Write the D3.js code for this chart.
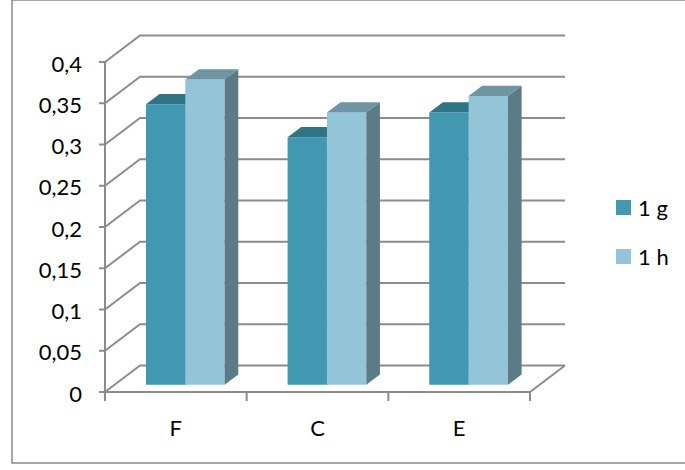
<!DOCTYPE html>
<html>
<head>
<meta charset="utf-8">
<script src="https://cdn.jsdelivr.net/npm/d3@7"></script>
<style>
  html, body { margin: 0; padding: 0; background: #fff; }
  svg { display: block; }
  text { font-family: Lato, "Open Sans", sans-serif; fill: #000; }
</style>
</head>
<body>
<svg id="chart" width="685" height="470"></svg>
<script>
// Chart data
const categories = ["F", "C", "E"];
const seriesNames = ["1 g", "1 h"];
const values1g = [0.34, 0.30, 0.33];
const values1h = [0.37, 0.33, 0.35];
const yTickValues = [0, 0.05, 0.1, 0.15, 0.2, 0.25, 0.3, 0.35, 0.4];

const seriesValues = [values1g, values1h];
const palette = {
  "1 g": { front: "#4198b1", top: "#2f7586", side: "#2d6e7e" },
  "1 h": { front: "#93c4d7", top: "#6f95a4", side: "#5b7c87" }
};

const svg = d3.select("#chart");

// Outer chart frame
svg.append("rect")
  .attr("x", 12).attr("y", 0)
  .attr("width", 700).attr("height", 463)
  .attr("fill", "none").attr("stroke", "#8a8a8a").attr("stroke-width", 1.5);

// Plot scales (front plane) and depth projection
const x = d3.scaleBand().domain(categories).range([105, 530]);
const xs = d3.scaleBand().domain(seriesNames).range([0, x.bandwidth()]).paddingOuter(0.8);
const y = d3.scaleLinear().domain([0, 0.4]).range([392, 62]);
const depth = { dx: 35, dy: -26.5 };
const barDepth = [0.27, 0.66];

const proj = (px, v, f) => [px + f * depth.dx, y(v) + f * depth.dy];
const fmt = d3.formatLocale({ decimal: ",", thousands: ".", grouping: [3], currency: ["", ""] }).format(".2~f");

const gridColor = "#8c8c8c";
const grid = svg.append("g").attr("stroke", gridColor).attr("stroke-width", 2).attr("fill", "none");

// Back wall gridlines with their side-wall diagonals
yTickValues.forEach(v => {
  const a = proj(x.range()[0], v, 0);
  const b = proj(x.range()[0], v, 1);
  const c = proj(x.range()[1], v, 1);
  grid.append("polyline").attr("points", [a, b, c].map(p => p.join(",")).join(" "));
});

// Floor outline
{
  const l0 = proj(x.range()[0], 0, 0);
  const r0 = proj(x.range()[1], 0, 0);
  const r1 = proj(x.range()[1], 0, 1);
  grid.append("line").attr("x1", r0[0]).attr("y1", r0[1]).attr("x2", r1[0]).attr("y2", r1[1]);
  grid.append("line").attr("x1", l0[0]).attr("y1", l0[1]).attr("x2", r0[0]).attr("y2", r0[1]);
}

// Value axis
const yAxis = svg.append("g");
yAxis.append("line")
  .attr("x1", 105).attr("x2", 105).attr("y1", y(0.4)).attr("y2", y(0) + 9)
  .attr("stroke", gridColor).attr("stroke-width", 2);
yTickValues.forEach(v => {
  yAxis.append("line")
    .attr("x1", 99).attr("x2", 105).attr("y1", y(v)).attr("y2", y(v))
    .attr("stroke", gridColor).attr("stroke-width", 2);
  yAxis.append("text")
    .attr("x", 82).attr("y", y(v) + 9.5)
    .attr("text-anchor", "end").attr("font-size", 22)
    .text(fmt(v));
});

// Category axis ticks and labels
const xAxis = svg.append("g");
const boundaries = categories.map(c => x(c)).concat([x.range()[1]]);
boundaries.forEach(bx => {
  xAxis.append("line")
    .attr("x1", bx).attr("x2", bx).attr("y1", y(0)).attr("y2", y(0) + 9)
    .attr("stroke", gridColor).attr("stroke-width", 2);
});
categories.forEach(c => {
  xAxis.append("text")
    .attr("x", x(c) + x.bandwidth() / 2).attr("y", 436)
    .attr("text-anchor", "middle").attr("font-size", 22)
    .text(c);
});

// 3D columns: front, top and right side faces
const bars = svg.append("g");
const poly = pts => pts.map(p => p.join(",")).join(" ");
categories.forEach((c, ci) => {
  seriesNames.forEach((s, si) => {
    const v = seriesValues[si][ci];
    const x0 = x(c) + xs(s);
    const x1 = x0 + xs.bandwidth();
    const [f0, f1] = barDepth;
    const col = palette[s];
    bars.append("polygon")
      .attr("points", poly([proj(x0, 0, f0), proj(x1, 0, f0), proj(x1, v, f0), proj(x0, v, f0)]))
      .attr("fill", col.front);
    bars.append("polygon")
      .attr("points", poly([proj(x0, v, f0), proj(x1, v, f0), proj(x1, v, f1), proj(x0, v, f1)]))
      .attr("fill", col.top);
    bars.append("polygon")
      .attr("points", poly([proj(x1, 0, f0), proj(x1, 0, f1), proj(x1, v, f1), proj(x1, v, f0)]))
      .attr("fill", col.side);
  });
});

// Legend
const legend = svg.append("g");
seriesNames.forEach((s, i) => {
  const ly = 200 + i * 49;
  legend.append("rect")
    .attr("x", 616).attr("y", ly).attr("width", 15).attr("height", 15)
    .attr("fill", palette[s].front);
  legend.append("text")
    .attr("x", 638).attr("y", ly + 16)
    .attr("font-size", 22)
    .text(s);
});
</script>
</body>
</html>
